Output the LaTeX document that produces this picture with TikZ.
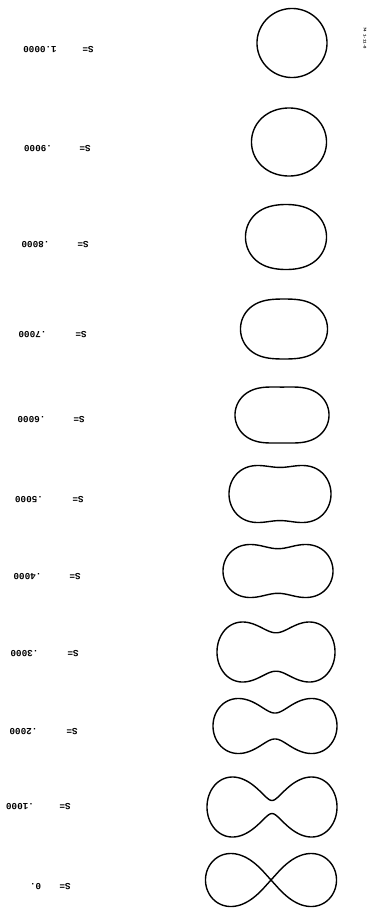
\documentclass[tikz,border=0pt]{standalone}
\usepackage{fontspec}
\setmonofont{Liberation Mono}
\begin{document}
\begin{tikzpicture}[x=1pt,y=-1pt,
  declare function={cr(\t,\c)=sqrt(max(0,\c*cos(2*\t)+sqrt(max(0,1-\c*\c*pow(sin(2*\t),2)))));},
  curve/.style={line width=1.4pt, line join=round},
  lbl/.style={font=\ttfamily\bfseries\fontsize{9.3}{10}\selectfont, rotate=180, anchor=center, inner sep=0pt},
  stamp/.style={font=\ttfamily\bfseries\fontsize{4}{5}\selectfont, rotate=-90, inner sep=0pt}]
\useasboundingbox (0,0) rectangle (371,908);
\foreach \c/\cx/\cy/\w/\h/\ly/\vx/\v/\sx [count=\n] in {
  0.00/292/43/70/69/50/40/1.0000/88,
  0.19/289/142/75/68/149/38/.9000/85,
  0.34/286/237/81/65/245/35.5/.8000/83,
  0.44/284/329/87/60/335/32.5/.7000/81,
  0.53/282/415/94/56/420/31.5/.6000/79,
  0.68/280/494/102/57/500/29/.5000/78,
  0.77/278/571/110/53/577/27.5/.4000/75,
  0.884/276/652/118/60/654/24.5/.3000/73,
  0.941/275/726/124/55/732/23.5/.2000/72,
  0.988/272/807/130/60/807/20/.1000/65,
  1.00/271/880/131/53/887/35.5/0./65}
{
  \pgfmathsetmacro\xm{sqrt(1+\c)}
  \pgfmathsetmacro\ym{\c>=0.5 ? 1/(2*sqrt(max(\c,0.01))) : sqrt(1-\c)}
  \pgfmathsetmacro\kx{\w/2/\xm}
  \pgfmathsetmacro\ky{\h/2/\ym}
  \draw[curve] plot[domain=0:360, samples=361, variable=\t]
    ({\cx + \kx*cr(\t,\c)*cos(\t)}, {\cy + \ky*cr(\t,\c)*sin(\t)}) -- cycle;
  \node[lbl] (val\n) at (\vx,\ly) {\v};
  \node[lbl] (seq\n) at (\sx,\ly) {S=};
}
\node[stamp] (stamp) at (365,38) {74 1-11-8};
\end{tikzpicture}
\end{document}
